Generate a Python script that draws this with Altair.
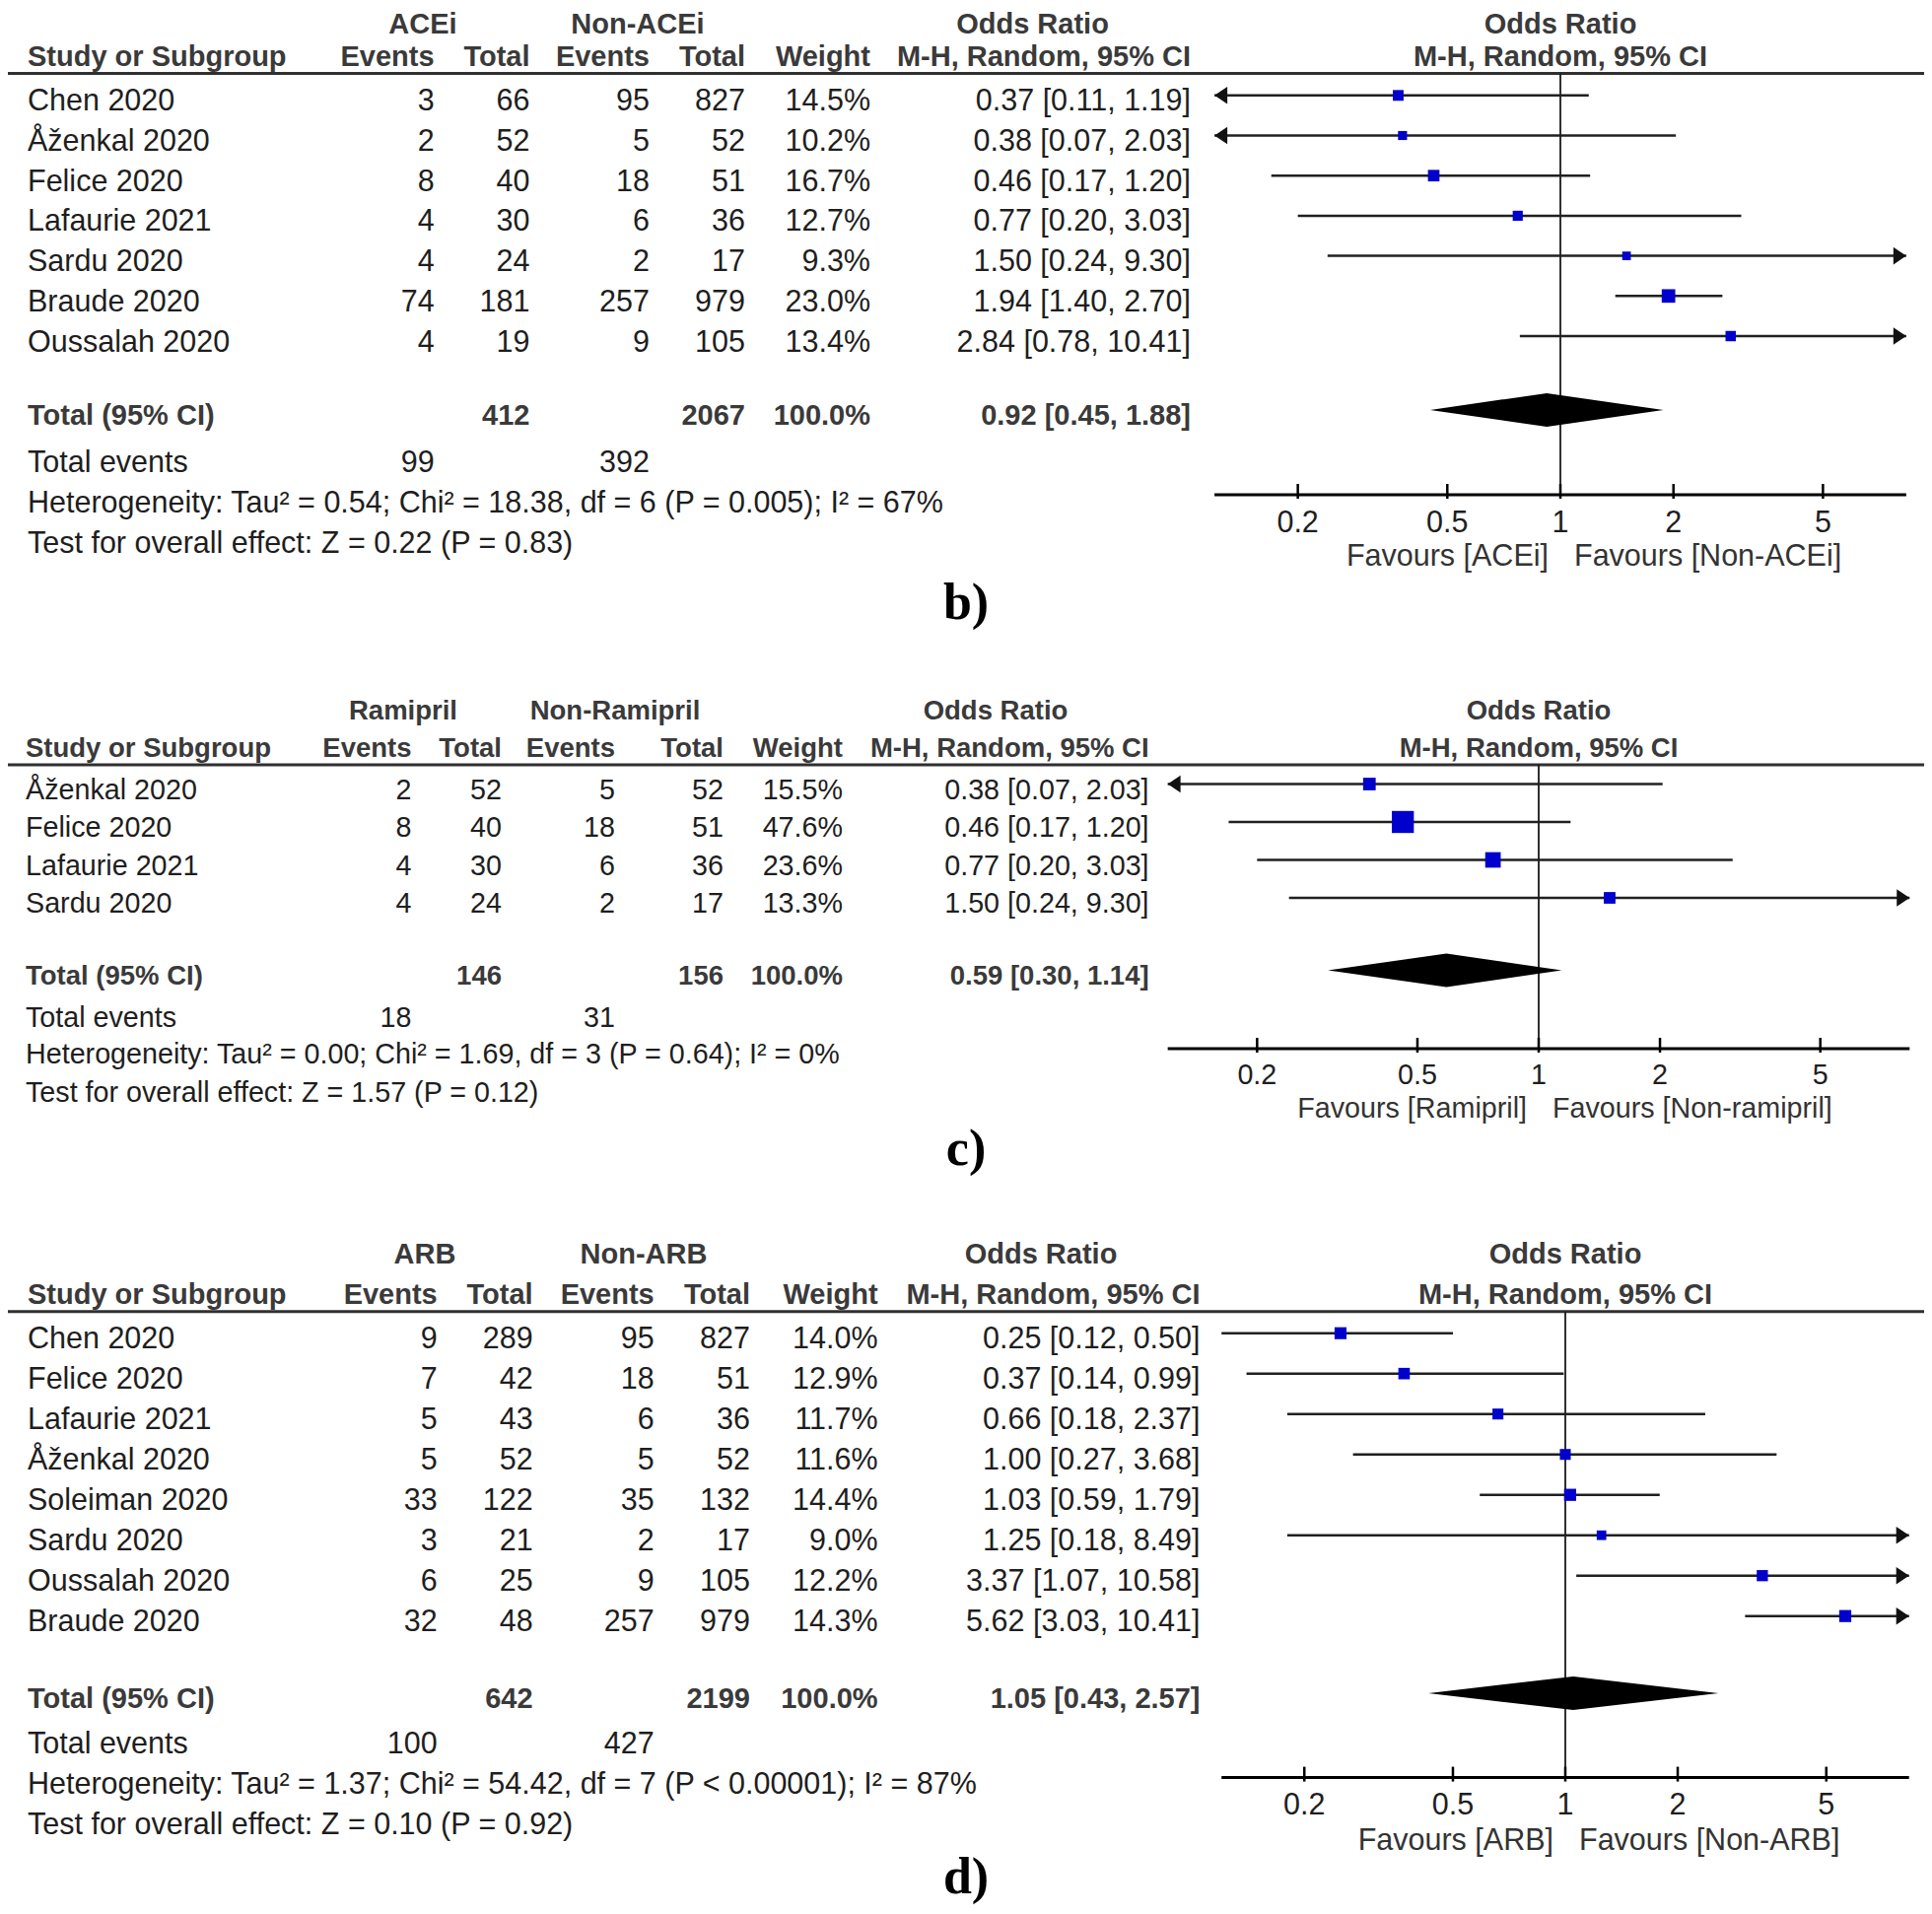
import math
import altair as alt
import pandas as pd

M = 8                      # page margin
W, H = 1960 - 2 * M, 1942 - 2 * M
FONT = "Liberation Sans"
SERIF = "Liberation Serif"
BLUE = "#0000CC"
TXT = "#1e1e1e"
HEAD = "#3a3a3a"
DOM = [0.12, 8.33]
TICKS = [0.2, 0.5, 1, 2, 5]
TICK_LABELS = ["0.2", "0.5", "1", "2", "5"]

# ---------------- panel b : ACEi ----------------
b_label = "b)"
b_group1, b_group2 = "ACEi", "Non-ACEi"
b_fav_left, b_fav_right = "Favours [ACEi]", "Favours [Non-ACEi]"
b_study = ["Chen 2020", "Åženkal 2020", "Felice 2020", "Lafaurie 2021", "Sardu 2020", "Braude 2020", "Oussalah 2020"]
b_e1 = [3, 2, 8, 4, 4, 74, 4]
b_t1 = [66, 52, 40, 30, 24, 181, 19]
b_e2 = [95, 5, 18, 6, 2, 257, 9]
b_t2 = [827, 52, 51, 36, 17, 979, 105]
b_w = [14.5, 10.2, 16.7, 12.7, 9.3, 23.0, 13.4]
b_or = [0.37, 0.38, 0.46, 0.77, 1.50, 1.94, 2.84]
b_lo = [0.11, 0.07, 0.17, 0.20, 0.24, 1.40, 0.78]
b_hi = [1.19, 2.03, 1.20, 3.03, 9.30, 2.70, 10.41]
b_pooled = [0.92, 0.45, 1.88]
b_het = "Heterogeneity: Tau² = 0.54; Chi² = 18.38, df = 6 (P = 0.005); I² = 67%"
b_test = "Test for overall effect: Z = 0.22 (P = 0.83)"

# ---------------- panel c : Ramipril ----------------
c_label = "c)"
c_group1, c_group2 = "Ramipril", "Non-Ramipril"
c_fav_left, c_fav_right = "Favours [Ramipril]", "Favours [Non-ramipril]"
c_study = ["Åženkal 2020", "Felice 2020", "Lafaurie 2021", "Sardu 2020"]
c_e1 = [2, 8, 4, 4]
c_t1 = [52, 40, 30, 24]
c_e2 = [5, 18, 6, 2]
c_t2 = [52, 51, 36, 17]
c_w = [15.5, 47.6, 23.6, 13.3]
c_or = [0.38, 0.46, 0.77, 1.50]
c_lo = [0.07, 0.17, 0.20, 0.24]
c_hi = [2.03, 1.20, 3.03, 9.30]
c_pooled = [0.59, 0.30, 1.14]
c_het = "Heterogeneity: Tau² = 0.00; Chi² = 1.69, df = 3 (P = 0.64); I² = 0%"
c_test = "Test for overall effect: Z = 1.57 (P = 0.12)"

# ---------------- panel d : ARB ----------------
d_label = "d)"
d_group1, d_group2 = "ARB", "Non-ARB"
d_fav_left, d_fav_right = "Favours [ARB]", "Favours [Non-ARB]"
d_study = ["Chen 2020", "Felice 2020", "Lafaurie 2021", "Åženkal 2020", "Soleiman 2020", "Sardu 2020", "Oussalah 2020", "Braude 2020"]
d_e1 = [9, 7, 5, 5, 33, 3, 6, 32]
d_t1 = [289, 42, 43, 52, 122, 21, 25, 48]
d_e2 = [95, 18, 6, 5, 35, 2, 9, 257]
d_t2 = [827, 51, 36, 52, 132, 17, 105, 979]
d_w = [14.0, 12.9, 11.7, 11.6, 14.4, 9.0, 12.2, 14.3]
d_or = [0.25, 0.37, 0.66, 1.00, 1.03, 1.25, 3.37, 5.62]
d_lo = [0.12, 0.14, 0.18, 0.27, 0.59, 0.18, 1.07, 3.03]
d_hi = [0.50, 0.99, 2.37, 3.68, 1.79, 8.49, 10.58, 10.41]
d_pooled = [1.05, 0.43, 2.57]
d_het = "Heterogeneity: Tau² = 1.37; Chi² = 54.42, df = 7 (P < 0.00001); I² = 87%"
d_test = "Test for overall effect: Z = 0.10 (P = 0.92)"

# ---------------- layout (pixel positions in the picture) ----------------
LAY_B = dict(row0=96.8, dy=40.7, fs=30.5, fb=29, tdy=6.5,
             group_y=23, head_y=55.5, line_y=74.6,
             x_study=28, x_e1=440.6, x_t1=537.5, x_e2=659, x_t2=756, x_w=883, x_or=1208,
             g1=429, g2=647, g_or=1047.5,
             null=1583, k=165.5,
             r_total=7.84, r_events=9.0, r_het=10.02, r_test=11.02,
             axis_y=502, tick_y=528.6, fav_y=563, half=17, label_y=628, sk=8.2)
LAY_C = dict(row0=795.5, dy=38.5, fs=28.7, fb=27.5, tdy=6.2,
             group_y=720, head_y=758, line_y=776,
             x_study=26, x_e1=417.5, x_t1=509, x_e2=624, x_t2=734, x_w=855, x_or=1165.6,
             g1=409, g2=624, g_or=1010,
             null=1561, k=177.5,
             r_total=4.91, r_events=6.02, r_het=6.96, r_test=7.97,
             axis_y=1064, tick_y=1089.3, fav_y=1123.3, half=17, label_y=1182, sk=10.5)
LAY_D = dict(row0=1352.7, dy=41.0, fs=30.5, fb=29, tdy=6.4,
             group_y=1270.9, head_y=1311.7, line_y=1330.8,
             x_study=28, x_e1=443.75, x_t1=540.6, x_e2=663.75, x_t2=761, x_w=890.6, x_or=1217.5,
             g1=431, g2=653, g_or=1056,
             null=1588, k=164.5,
             r_total=8.91, r_events=10.02, r_het=11.02, r_test=12.02,
             axis_y=1803.6, tick_y=1830, fav_y=1865.8, half=17, label_y=1921, sk=10.5)

LEFT_ARROW = "M0,0L2,-1.35L2,1.35Z"
RIGHT_ARROW = "M0,0L-2,-1.35L-2,1.35Z"


def fixed_text(text, x, y, align="left", fs=30, bold=False, color=TXT, font=FONT,
               baseline="middle", dy=2):
    return alt.Chart(pd.DataFrame({"t": [text]})).mark_text(
        align=align, baseline=baseline, font=font, fontSize=fs,
        fontWeight="bold" if bold else "normal", color=color, dy=dy
    ).encode(x=alt.value(x - M), y=alt.value(y - M), text="t:N")


def row_text(df, field, x, align, ys, fs, dy, bold=False, color=TXT):
    return alt.Chart(df).mark_text(
        align=align, baseline="middle", font=FONT, fontSize=fs,
        fontWeight="bold" if bold else "normal", color=color, dy=dy
    ).encode(x=alt.value(x - M), y=alt.Y("row:Q", scale=ys, axis=None), text=f"{field}:N")


def build_panel(label, g1, g2, fav_l, fav_r, study, e1, t1, e2, t2, w, orr, lo, hi,
                pooled, het, test, L):
    n = len(study)
    ys = alt.Scale(domain=[0, 12], range=[L["row0"] - M, L["row0"] - M + 12 * L["dy"]],
                   nice=False, zero=False)
    x_left = L["null"] + L["k"] * math.log(DOM[0]) - M
    x_right = L["null"] + L["k"] * math.log(DOM[1]) - M
    xs = alt.Scale(type="log", domain=DOM, range=[x_left, x_right], clamp=True, nice=False)
    fs, fb, tdy = L["fs"], L["fb"], L["tdy"]

    df = pd.DataFrame({
        "row": list(range(n)), "study": study,
        "e1": [str(v) for v in e1], "t1": [str(v) for v in t1],
        "e2": [str(v) for v in e2], "t2": [str(v) for v in t2],
        "w": w, "wt": [f"{v:.1f}%" for v in w],
        "or": orr, "lo": lo, "hi": hi,
        "ci": [f"{o:.2f} [{a:.2f}, {b:.2f}]" for o, a, b in zip(orr, lo, hi)],
    })
    tot = pd.DataFrame({
        "row": [L["r_total"]], "lab": ["Total (95% CI)"],
        "t1": [str(sum(t1))], "t2": [str(sum(t2))], "wt": ["100.0%"],
        "ci": [f"{pooled[0]:.2f} [{pooled[1]:.2f}, {pooled[2]:.2f}]"],
    })
    ev = pd.DataFrame({"row": [L["r_events"]], "lab": ["Total events"],
                       "e1": [str(sum(e1))], "e2": [str(sum(e2))]})
    notes = pd.DataFrame({"row": [L["r_het"], L["r_test"]], "lab": [het, test]})

    layers = []
    # header texts
    layers += [
        fixed_text(g1, L["g1"], L["group_y"], "center", fb, True, HEAD),
        fixed_text(g2, L["g2"], L["group_y"], "center", fb, True, HEAD),
        fixed_text("Odds Ratio", L["g_or"], L["group_y"], "center", fb, True, HEAD),
        fixed_text("Odds Ratio", L["null"], L["group_y"], "center", fb, True, HEAD),
        fixed_text("Study or Subgroup", L["x_study"], L["head_y"], "left", fb, True, HEAD),
        fixed_text("Events", L["x_e1"], L["head_y"], "right", fb, True, HEAD),
        fixed_text("Total", L["x_t1"], L["head_y"], "right", fb, True, HEAD),
        fixed_text("Events", L["x_e2"], L["head_y"], "right", fb, True, HEAD),
        fixed_text("Total", L["x_t2"], L["head_y"], "right", fb, True, HEAD),
        fixed_text("Weight", L["x_w"], L["head_y"], "right", fb, True, HEAD),
        fixed_text("M-H, Random, 95% CI", L["x_or"], L["head_y"], "right", fb, True, HEAD),
        fixed_text("M-H, Random, 95% CI", L["null"], L["head_y"], "center", fb, True, HEAD),
    ]
    # header line
    layers.append(alt.Chart(pd.DataFrame({"a": [0]})).mark_rule(color="#303030", strokeWidth=3).encode(
        x=alt.value(0), x2=alt.value(W), y=alt.value(L["line_y"] - M)))
    # study rows
    layers += [
        row_text(df, "study", L["x_study"], "left", ys, fs, tdy),
        row_text(df, "e1", L["x_e1"], "right", ys, fs, tdy),
        row_text(df, "t1", L["x_t1"], "right", ys, fs, tdy),
        row_text(df, "e2", L["x_e2"], "right", ys, fs, tdy),
        row_text(df, "t2", L["x_t2"], "right", ys, fs, tdy),
        row_text(df, "wt", L["x_w"], "right", ys, fs, tdy),
        row_text(df, "ci", L["x_or"], "right", ys, fs, tdy),
    ]
    # total row
    layers += [
        row_text(tot, "lab", L["x_study"], "left", ys, fb, tdy, True, HEAD),
        row_text(tot, "t1", L["x_t1"], "right", ys, fb, tdy, True, HEAD),
        row_text(tot, "t2", L["x_t2"], "right", ys, fb, tdy, True, HEAD),
        row_text(tot, "wt", L["x_w"], "right", ys, fb, tdy, True, HEAD),
        row_text(tot, "ci", L["x_or"], "right", ys, fb, tdy, True, HEAD),
        row_text(ev, "lab", L["x_study"], "left", ys, fs, tdy),
        row_text(ev, "e1", L["x_e1"], "right", ys, fs, tdy),
        row_text(ev, "e2", L["x_e2"], "right", ys, fs, tdy),
        row_text(notes, "lab", L["x_study"], "left", ys, fs, tdy),
    ]
    # null line
    one = pd.DataFrame({"v": [1.0]})
    layers.append(alt.Chart(one).mark_rule(color="#1a1a1a", strokeWidth=1.8).encode(
        x=alt.X("v:Q", scale=xs, axis=None),
        y=alt.value(L["line_y"] - M), y2=alt.value(L["axis_y"] - M)))
    # confidence intervals
    layers.append(alt.Chart(df).mark_rule(color="#202020", strokeWidth=2.5).encode(
        x=alt.X("lo:Q", scale=xs, axis=None), x2="hi:Q",
        y=alt.Y("row:Q", scale=ys, axis=None)))
    left = df[df["lo"] < DOM[0]]
    right = df[df["hi"] > DOM[1]]
    if len(left):
        layers.append(alt.Chart(left).mark_point(shape=LEFT_ARROW, filled=True, size=169,
                                                 color="#111111", opacity=1, strokeWidth=0).encode(
            x=alt.X("lo:Q", scale=xs, axis=None), y=alt.Y("row:Q", scale=ys, axis=None)))
    if len(right):
        layers.append(alt.Chart(right).mark_point(shape=RIGHT_ARROW, filled=True, size=169,
                                                  color="#111111", opacity=1, strokeWidth=0).encode(
            x=alt.X("hi:Q", scale=xs, axis=None), y=alt.Y("row:Q", scale=ys, axis=None)))
    # study squares
    layers.append(alt.Chart(df).mark_square(filled=True, color=BLUE, opacity=1, strokeWidth=0).encode(
        x=alt.X("or:Q", scale=xs, axis=None), y=alt.Y("row:Q", scale=ys, axis=None),
        size=alt.Size("w:Q", scale=alt.Scale(domain=[0, 50], range=[0, 50 * L["sk"]]), legend=None)))
    # pooled diamond
    h = L["half"] / L["dy"]
    r = L["r_total"]
    dia = pd.DataFrame({"x": [pooled[1], pooled[0], pooled[2]],
                        "y1": [r, r - h, r], "y2": [r, r + h, r]})
    layers.append(alt.Chart(dia).mark_area(color="black", opacity=1, orient="vertical").encode(
        x=alt.X("x:Q", scale=xs, axis=None),
        y=alt.Y("y1:Q", scale=ys, axis=None), y2="y2:Q"))
    # axis
    ax = pd.DataFrame({"a": [DOM[0]], "b": [DOM[1]]})
    layers.append(alt.Chart(ax).mark_rule(color="black", strokeWidth=3).encode(
        x=alt.X("a:Q", scale=xs, axis=None), x2="b:Q", y=alt.value(L["axis_y"] - M)))
    tk = pd.DataFrame({"v": TICKS, "t": TICK_LABELS})
    layers.append(alt.Chart(tk).mark_rule(color="black", strokeWidth=2.5).encode(
        x=alt.X("v:Q", scale=xs, axis=None),
        y=alt.value(L["axis_y"] - M - 11), y2=alt.value(L["axis_y"] - M + 4)))
    layers.append(alt.Chart(tk).mark_text(font=FONT, fontSize=fs, color=TXT, align="center",
                                          baseline="middle", dy=2).encode(
        x=alt.X("v:Q", scale=xs, axis=None), y=alt.value(L["tick_y"] - M), text="t:N"))
    fav = pd.DataFrame({"v": [1.0, 1.0], "t": [fav_l, fav_r]})
    layers.append(alt.Chart(fav.iloc[[0]]).mark_text(font=FONT, fontSize=fs, color="#333333",
                                                      align="right", baseline="middle", dx=-12, dy=2).encode(
        x=alt.X("v:Q", scale=xs, axis=None), y=alt.value(L["fav_y"] - M), text="t:N"))
    layers.append(alt.Chart(fav.iloc[[1]]).mark_text(font=FONT, fontSize=fs, color="#333333",
                                                      align="left", baseline="middle", dx=14, dy=2).encode(
        x=alt.X("v:Q", scale=xs, axis=None), y=alt.value(L["fav_y"] - M), text="t:N"))
    # panel letter
    layers.append(fixed_text(label, 980, L["label_y"], "center", 52, True, "black", SERIF,
                             "alphabetic", 0))
    return layers


all_layers = []
all_layers += build_panel(b_label, b_group1, b_group2, b_fav_left, b_fav_right, b_study, b_e1, b_t1,
                          b_e2, b_t2, b_w, b_or, b_lo, b_hi, b_pooled, b_het, b_test, LAY_B)
all_layers += build_panel(c_label, c_group1, c_group2, c_fav_left, c_fav_right, c_study, c_e1, c_t1,
                          c_e2, c_t2, c_w, c_or, c_lo, c_hi, c_pooled, c_het, c_test, LAY_C)
all_layers += build_panel(d_label, d_group1, d_group2, d_fav_left, d_fav_right, d_study, d_e1, d_t1,
                          d_e2, d_t2, d_w, d_or, d_lo, d_hi, d_pooled, d_het, d_test, LAY_D)

chart = alt.layer(*all_layers).resolve_scale(
    x="independent", y="independent", size="independent"
).properties(
    width=W, height=H, padding=0, background="white",
    autosize=alt.AutoSizeParams(type="none")
).configure_view(strokeWidth=0)

chart.save("out.html", embed_options={"renderer": "svg", "actions": False})
